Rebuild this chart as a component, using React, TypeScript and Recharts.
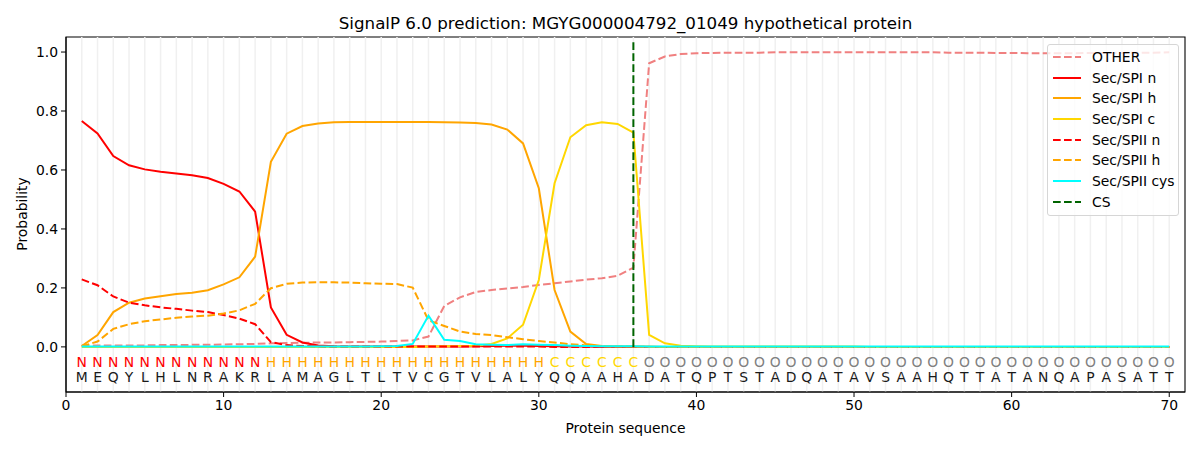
import { ComposedChart, Line, XAxis, YAxis, ReferenceLine, ReferenceArea } from "recharts";

const SEQUENCE = "MEQYLHLNRAKRLAMAGLTLTVCGTVLALYQQAAHADATQPTSTADQATAVSAAHQTTATANQAPASATT";
const REGIONS = "NNNNNNNNNNNNHHHHHHHHHHHHHHHHHHCCCCCCOOOOOOOOOOOOOOOOOOOOOOOOOOOOOOOOOO";
const CS_POS = 36;

const OTHER = [
  0.005, 0.005, 0.005, 0.005, 0.005, 0.006, 0.006, 0.007, 0.007, 0.008,
  0.009, 0.01, 0.012, 0.013, 0.014, 0.015, 0.015, 0.016, 0.017, 0.018,
  0.02, 0.022, 0.035, 0.139, 0.168, 0.186, 0.193, 0.198, 0.203, 0.21,
  0.216, 0.222, 0.228, 0.233, 0.241, 0.269, 0.962, 0.985, 0.993, 0.996,
  0.997, 0.998, 0.998, 0.998, 0.999, 0.999, 0.999, 0.999, 0.999, 0.999,
  0.999, 0.999, 0.999, 0.999, 0.999, 0.998, 0.998, 0.998, 0.997, 0.997,
  0.996, 0.996, 0.996, 0.996, 0.997, 0.997, 0.997, 0.998, 0.998, 0.999,
];
const SPI_N = [
  0.766, 0.724, 0.647, 0.616, 0.602, 0.594, 0.588, 0.582, 0.573, 0.553,
  0.527, 0.459, 0.134, 0.041, 0.015, 0.005, 0.002, 0.001, 0.001, 0.001,
  0.001, 0.001, 0.001, 0.001, 0.001, 0.002, 0.003, 0.004, 0.004, 0.003,
  0.002, 0.001, 0.001, 0, 0, 0, 0, 0, 0, 0,
  0, 0, 0, 0, 0, 0, 0, 0, 0, 0,
  0, 0, 0, 0, 0, 0, 0, 0, 0, 0,
  0, 0, 0, 0, 0, 0, 0, 0, 0, 0,
];
const SPI_H = [
  0.003, 0.04, 0.118, 0.15, 0.164, 0.172, 0.179, 0.184, 0.192, 0.212,
  0.236, 0.306, 0.628, 0.723, 0.749, 0.758, 0.762, 0.763, 0.763, 0.763,
  0.763, 0.763, 0.763, 0.762, 0.761, 0.759, 0.754, 0.737, 0.69, 0.538,
  0.193, 0.052, 0.01, 0.003, 0.002, 0.001, 0.001, 0, 0, 0,
  0, 0, 0, 0, 0, 0, 0, 0, 0, 0,
  0, 0, 0, 0, 0, 0, 0, 0, 0, 0,
  0, 0, 0, 0, 0, 0, 0, 0, 0, 0,
];
const SPI_C = [
  0, 0, 0, 0, 0, 0, 0, 0, 0, 0,
  0, 0, 0, 0, 0, 0, 0, 0, 0, 0,
  0, 0, 0.001, 0.002, 0.003, 0.004, 0.01, 0.029, 0.075, 0.227,
  0.555, 0.711, 0.752, 0.762, 0.756, 0.727, 0.041, 0.012, 0.004, 0.002,
  0.001, 0.001, 0.001, 0.001, 0.001, 0.001, 0.001, 0.001, 0.001, 0.001,
  0, 0, 0, 0, 0, 0, 0, 0, 0, 0,
  0, 0, 0, 0, 0, 0, 0, 0, 0, 0,
];
const SPII_N = [
  0.229, 0.209, 0.171, 0.15, 0.141, 0.134, 0.129, 0.123, 0.118, 0.108,
  0.096, 0.077, 0.016, 0.006, 0.003, 0.002, 0.001, 0.001, 0.001, 0.001,
  0.001, 0.001, 0.001, 0.001, 0.001, 0.001, 0.001, 0.001, 0.001, 0.001,
  0, 0, 0, 0, 0, 0, 0, 0, 0, 0,
  0, 0, 0, 0, 0, 0, 0, 0, 0, 0,
  0, 0, 0, 0, 0, 0, 0, 0, 0, 0,
  0, 0, 0, 0, 0, 0, 0, 0, 0, 0,
];
const SPII_H = [
  0.002, 0.018, 0.061, 0.077, 0.087, 0.093, 0.099, 0.103, 0.106, 0.113,
  0.124, 0.146, 0.199, 0.214, 0.218, 0.219, 0.219, 0.218, 0.216, 0.214,
  0.213, 0.201, 0.09, 0.071, 0.052, 0.044, 0.04, 0.033, 0.026, 0.02,
  0.015, 0.009, 0.005, 0.002, 0.001, 0.001, 0, 0, 0, 0,
  0, 0, 0, 0, 0, 0, 0, 0, 0, 0,
  0, 0, 0, 0, 0, 0, 0, 0, 0, 0,
  0, 0, 0, 0, 0, 0, 0, 0, 0, 0,
];
const SPII_CYS = [
  0.001, 0.001, 0.001, 0.001, 0.001, 0.001, 0.001, 0.001, 0.001, 0.001,
  0.001, 0.001, 0.001, 0.001, 0.001, 0.001, 0.001, 0.001, 0.001, 0.002,
  0.003, 0.01, 0.106, 0.024, 0.02, 0.009, 0.007, 0.006, 0.009, 0.007,
  0.006, 0.004, 0.003, 0.002, 0.002, 0.002, 0.001, 0.001, 0.001, 0.001,
  0.001, 0.001, 0.001, 0.001, 0.001, 0.001, 0.001, 0.001, 0.001, 0.001,
  0.001, 0.001, 0.001, 0.001, 0.001, 0.001, 0.001, 0.001, 0.001, 0.001,
  0.001, 0.001, 0.001, 0.001, 0.001, 0.001, 0.001, 0.001, 0.001, 0.001,
];

const X_DOMAIN = [0, 71];
const Y_DOMAIN = [-0.153, 1.051];
const X_TICKS = [0, 10, 20, 30, 40, 50, 60, 70];
const Y_TICKS = [0, 0.2, 0.4, 0.6, 0.8, 1.0];

const REGION_COLORS: Record<string, string> = {
  N: "#ff0000",
  H: "#ffa500",
  C: "#ffd700",
  O: "#808080",
};

const SERIES = [
  { key: "other", name: "OTHER", color: "#f08080", dashed: true },
  { key: "spiN", name: "Sec/SPI n", color: "#ff0000", dashed: false },
  { key: "spiH", name: "Sec/SPI h", color: "#ffa500", dashed: false },
  { key: "spiC", name: "Sec/SPI c", color: "#ffd700", dashed: false },
  { key: "spiiN", name: "Sec/SPII n", color: "#ff0000", dashed: true },
  { key: "spiiH", name: "Sec/SPII h", color: "#ffa500", dashed: true },
  { key: "spiiCys", name: "Sec/SPII cys", color: "#00ffff", dashed: false },
];

const FONT = "'DejaVu Sans', sans-serif";
const DASH = "7.7 3.3";

const data = SEQUENCE.split("").map((aa, i) => ({
  pos: i + 1,
  aa,
  region: REGIONS[i],
  other: OTHER[i],
  spiN: SPI_N[i],
  spiH: SPI_H[i],
  spiC: SPI_C[i],
  spiiN: SPII_N[i],
  spiiH: SPII_H[i],
  spiiCys: SPII_CYS[i],
  regionRow: -0.051,
  aaRow: -0.102,
}));

const renderRegion = (p: any) => (
  <text
    key={`r${p.index}`}
    x={p.cx}
    y={p.cy}
    textAnchor="middle"
    dominantBaseline="central"
    fontFamily={FONT}
    fontSize={13.9}
    fill={REGION_COLORS[p.payload.region]}
  >
    {p.payload.region}
  </text>
);

const renderAa = (p: any) => (
  <text
    key={`a${p.index}`}
    x={p.cx}
    y={p.cy}
    textAnchor="middle"
    dominantBaseline="central"
    fontFamily={FONT}
    fontSize={13.9}
    fill="#1a1a1a"
  >
    {p.payload.aa}
  </text>
);

function LegendBox() {
  const rows = [...SERIES, { key: "cs", name: "CS", color: "#006400", dashed: true }];
  return (
    <div
      style={{
        position: "absolute",
        left: 1047,
        top: 44,
        width: 132,
        height: 172,
        border: "1px solid #d6d6d6",
        borderRadius: 3,
        background: "rgba(255,255,255,0.8)",
        fontFamily: FONT,
        fontSize: 13.9,
        color: "#000",
        boxSizing: "border-box",
        paddingTop: 1.5,
        whiteSpace: "nowrap",
      }}
    >
      {rows.map((r) => (
        <div key={r.key} style={{ display: "flex", alignItems: "center", height: 20.7 }}>
          <svg width={40} height={10} style={{ marginLeft: 4, flex: "none" }}>
            <line
              x1={1}
              x2={29}
              y1={5}
              y2={5}
              stroke={r.color}
              strokeWidth={2}
              strokeDasharray={r.dashed ? DASH : undefined}
            />
          </svg>
          <span style={{ lineHeight: "16px" }}>{r.name}</span>
        </div>
      ))}
    </div>
  );
}

export default function App() {
  return (
    <div style={{ position: "absolute", left: 0, top: 0, width: 1200, height: 450, background: "#fff" }}>
      <div
        style={{
          position: "absolute",
          left: 66,
          width: 1119,
          top: 13,
          textAlign: "center",
          fontFamily: FONT,
          fontSize: 16.7,
          lineHeight: "20px",
        }}
      >
        SignalP 6.0 prediction: MGYG000004792_01049 hypothetical protein
      </div>
      <div
        style={{
          position: "absolute",
          left: 66,
          width: 1119,
          top: 419,
          textAlign: "center",
          fontFamily: FONT,
          fontSize: 13.9,
          lineHeight: "18px",
        }}
      >
        Protein sequence
      </div>
      <div
        style={{
          position: "absolute",
          left: 22,
          top: 214,
          transform: "translate(-50%, -50%) rotate(-90deg)",
          fontFamily: FONT,
          fontSize: 13.9,
          lineHeight: "18px",
          whiteSpace: "nowrap",
        }}
      >
        Probability
      </div>
      <ComposedChart
        width={1200}
        height={450}
        data={data}
        margin={{ top: 37, right: 15, bottom: 28, left: 16 }}
      >
        <XAxis
          dataKey="pos"
          type="number"
          domain={X_DOMAIN}
          ticks={X_TICKS}
          interval={0}
          height={30}
          tickSize={5}
          tickMargin={3}
          stroke="#000"
          tick={{ fill: "#000", fontFamily: FONT, fontSize: 13.9 }}
          allowDataOverflow
        />
        <YAxis
          type="number"
          domain={Y_DOMAIN}
          ticks={Y_TICKS}
          interval={0}
          width={50}
          tickSize={5}
          tickMargin={3}
          stroke="#000"
          tickFormatter={(v: number) => v.toFixed(1)}
          tick={{ fill: "#000", fontFamily: FONT, fontSize: 13.9 }}
          allowDataOverflow
        />
        {data.map((d) => (
          <ReferenceLine key={`g${d.pos}`} x={d.pos} stroke="#f0f0f0" strokeWidth={1.5} />
        ))}
        {SERIES.map((s) => (
          <Line
            key={s.key}
            dataKey={s.key}
            name={s.name}
            type="linear"
            stroke={s.color}
            strokeWidth={2}
            strokeDasharray={s.dashed ? DASH : undefined}
            dot={false}
            activeDot={false}
            isAnimationActive={false}
          />
        ))}
        <ReferenceLine
          segment={[
            { x: CS_POS, y: 0 },
            { x: CS_POS, y: 1.035 },
          ]}
          stroke="#006400"
          strokeWidth={2}
          strokeDasharray={DASH}
        />
        <Line
          dataKey="regionRow"
          stroke="none"
          dot={renderRegion}
          activeDot={false}
          isAnimationActive={false}
          legendType="none"
        />
        <Line
          dataKey="aaRow"
          stroke="none"
          dot={renderAa}
          activeDot={false}
          isAnimationActive={false}
          legendType="none"
        />
        <ReferenceArea
          x1={X_DOMAIN[0]}
          x2={X_DOMAIN[1]}
          y1={Y_DOMAIN[0]}
          y2={Y_DOMAIN[1]}
          fill="none"
          fillOpacity={0}
          stroke="#000"
          strokeWidth={1.1}
          ifOverflow="visible"
        />
      </ComposedChart>
      <LegendBox />
    </div>
  );
}
